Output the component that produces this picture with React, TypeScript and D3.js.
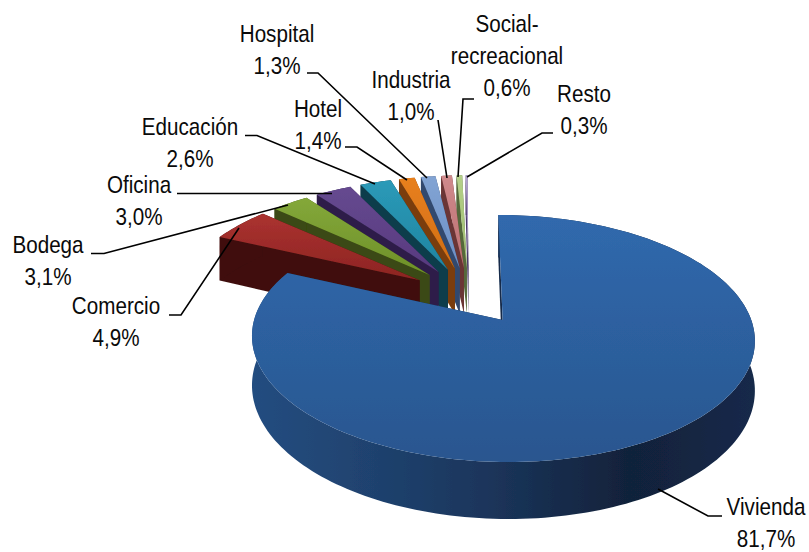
import React from "react";
import * as d3 from "d3";

const categories = ["Resto","Social-recreacional","Industria","Hospital","Hotel","Educación","Oficina","Bodega","Comercio","Vivienda"];
const values = [0.3,0.6,1.0,1.3,1.4,2.6,3.0,3.1,4.9,81.7];
const topColors = ["#b3a3d0","#b5d08a","#d08a8c","#82a4d4","#e8801f","#2b9ab8","#664a90","#84a83a","#ab3230","#3069ad"];
const topColorsLow = ["#9684b8","#9cbc6c","#bb6f70","#6c8fc4","#d06d14","#1f84a0","#57397e","#6e9028","#8c2422","#29568f"];
const wallColors = ["#4a3a66","#55683a","#6a3534","#33496e","#7a3e0a","#0d3c4c","#2e1f4a","#3a4a12","#3f0f0d","#142a4a"];
const labelLines = [["Resto","0,3%"],["Social-","recreacional","0,6%"],["Industria","1,0%"],["Hospital","1,3%"],["Hotel","1,4%"],["Educación","2,6%"],["Oficina","3,0%"],["Bodega","3,1%"],["Comercio","4,9%"],["Vivienda","81,7%"]];
const labelX = [584,507,411,277,318,190,139,48,116,766];
const labelY = [102,32,88,42,117,135,193,253,314,515];
const leaders: number[][][] = [
  [[553,133],[542,133],[467,177]],
  [[474,99],[463,99],[458,177]],
  [[438,120],[447,178]],
  [[307,73],[318,73],[427,178]],
  [[345,147],[357,147],[407,180]],
  [[245,135.5],[257,135.5],[375,184]],
  [[177,193.5],[332,193.5]],
  [[91,253.5],[104,253.5],[288,205]],
  [[169,315],[181,315],[239,228]],
  [[722,516],[708,516],[658,489]],
];

const CX = 469, CY = 295.4, RX = 241, RY = 113.5, PERSP = 0.145, EXPLODE = 0.25, DEPTH = 47;

function project(u: number, v: number, z = 0): [number, number] {
  const s = 1 / (1 - PERSP * v);
  return [CX + RX * u * s, CY + RY * v * s + z * s];
}

const pieGen = d3.pie<number>().sort(null).value((d) => d).startAngle(0).endAngle(2 * Math.PI);
// Small slices run counter-clockwise from twelve o'clock, largest wraps the rest.
const arcs = pieGen(values);

function slicePoints(i: number) {
  const a0 = -arcs[i].startAngle;
  const a1 = -arcs[i].endAngle;
  const gap = i === 9 ? 0 : 0.005;
  const mid = (a0 + a1) / 2;
  const ax = Math.sin(mid) * EXPLODE;
  const ay = -Math.cos(mid) * EXPLODE;
  const n = Math.max(4, Math.ceil(Math.abs(a1 - a0) * 40));
  const outer = d3.range(n + 1).map((k) => {
    const t = a0 - Math.sign(a0 - a1) * gap + (a1 - a0 + 2 * Math.sign(a0 - a1) * gap) * (k / n);
    return [ax + Math.sin(t), ay - Math.cos(t)];
  });
  return { apex: [ax, ay], outer };
}

const line = d3.line();

function Slice({ i }: { i: number }) {
  const { apex, outer } = slicePoints(i);
  const p = (q: number[], z = 0) => project(q[0], q[1], z);
  const top = line([p(apex), ...outer.map((q) => p(q))]) + "Z";
  const lastOuter = outer[outer.length - 1];
  const firstOuter = outer[0];
  const wallA = line([p(apex), p(lastOuter), p(lastOuter, DEPTH), p(apex, DEPTH)]) + "Z";
  const wallB = line([p(apex), p(firstOuter), p(firstOuter, DEPTH), p(apex, DEPTH)]) + "Z";
  const rim = line([...outer.map((q) => p(q)), ...outer.slice().reverse().map((q) => p(q, DEPTH))]) + "Z";
  return (
    <g>
      <path d={wallB} fill={wallColors[i]} />
      <path d={wallA} fill={wallColors[i]} />
      <path d={rim} fill={i === 9 ? "url(#rim)" : wallColors[i]} />
      <path d={top} fill={`url(#top${i})`} />
    </g>
  );
}

export default function App() {
  return (
    <svg width={809} height={552} style={{ position: "absolute", left: 0, top: 0 }}>
      <defs>
        {topColors.map((c, i) => (
          <linearGradient key={i} id={`top${i}`} x1="0" y1="0" x2="0" y2="1">
            <stop offset="0" stopColor={c} />
            <stop offset="1" stopColor={topColorsLow[i]} />
          </linearGradient>
        ))}
        <linearGradient id="rim" x1="0" y1="0" x2="1" y2="0">
          <stop offset="0" stopColor="#244d80" />
          <stop offset="0.3" stopColor="#1e3f6a" />
          <stop offset="0.5" stopColor="#1a3358" />
          <stop offset="0.75" stopColor="#11223a" />
          <stop offset="1" stopColor="#14294a" />
        </linearGradient>
        <filter id="soft" x="-5%" y="-5%" width="110%" height="110%">
          <feGaussianBlur stdDeviation="0.7" />
        </filter>
      </defs>
      <g filter="url(#soft)">
        {values.map((_, i) => <Slice key={categories[i]} i={i} />)}
      </g>
      {leaders.map((pts, i) => (
        <path key={i} d={line(pts as [number, number][]) ?? ""} fill="none" stroke="#000" strokeWidth={1.6} />
      ))}
      {labelLines.map((lines, i) => (
        <g key={i} transform={`translate(${labelX[i]},${labelY[i]}) scale(0.86,1)`}>
          {lines.map((t, j) => (
            <text key={j} y={j * 32} textAnchor="middle" fontFamily="'Liberation Sans', Arial, sans-serif" fontSize={24} fill="#0a0a0a">{t}</text>
          ))}
        </g>
      ))}
    </svg>
  );
}
